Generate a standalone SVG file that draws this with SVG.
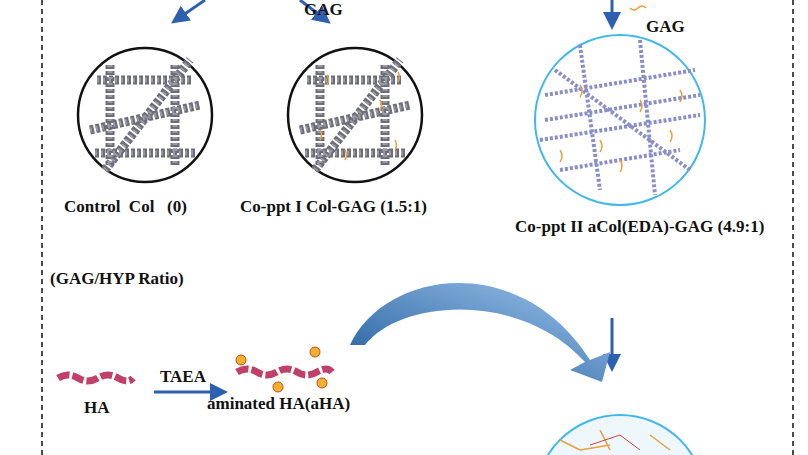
<svg xmlns="http://www.w3.org/2000/svg" width="808" height="455" viewBox="0 0 808 455">
<style>
.t{font-family:"Liberation Serif",serif;font-weight:bold;font-size:17px;fill:#111}
.b{stroke:#111;stroke-width:1.5;stroke-dasharray:5 4;fill:none}
.fib{stroke:#6d6d78;stroke-width:9;fill:none;stroke-dasharray:4 2}
.fib2{stroke:#9a9aa6;stroke-width:5;fill:none}
.lf{stroke:#8a8ec8;stroke-width:4;fill:none;stroke-dasharray:3 2}
.gag{stroke:#e8a040;stroke-width:1.5;fill:none}
.arr{stroke:#2f5fb0;stroke-width:3;fill:none}
</style>
<defs>
<marker id="ah" markerWidth="6" markerHeight="6" refX="4" refY="3" orient="auto"><path d="M0,0L6,3L0,6z" fill="#2f5fb0"/></marker>
<linearGradient id="cg" x1="0" y1="1" x2="1" y2="0"><stop offset="0" stop-color="#1f5a9a"/><stop offset="1" stop-color="#9cc4ec"/></linearGradient>
<g id="mesh">
<path class="fib" d="M-48,-35H48M-50,38H50M-35,-50V52M30,-50V50M-55,15L55,-10M-40,55L45,-55"/>
<path class="fib2" d="M-48,-35H48M-50,38H50M-35,-50V52M30,-50V50M-55,15L55,-10M-40,55L45,-55" stroke-dasharray="2 4"/>
</g>
</defs>
<rect width="808" height="455" fill="#fff"/>
<g id="border">
<path class="b" d="M42,0V455M793,0V455"/>
</g>
<g id="connectors">
<path class="arr" d="M205,0L176,20" marker-end="url(#ah)"/>
<path class="arr" d="M300,0L326,20" marker-end="url(#ah)"/>
<path class="arr" d="M612,0V24" marker-end="url(#ah)"/>
<path class="arr" d="M612,318V366" marker-end="url(#ah)"/>
<path class="arr" d="M154,392H222" stroke-width="1.5" stroke="#222" marker-end="url(#ah)"/>
<path d="M350,345C385,270 520,250 590,360L610,352L602,382L570,370L585,362C520,290 400,300 365,345Z" fill="url(#cg)"/>
</g>
<g id="ctrl">
<circle cx="145" cy="115" r="67" fill="#fff" stroke="#111" stroke-width="2.5"/>
<use href="#mesh" x="145" y="115"/>
</g>
<g id="copptI">
<circle cx="355" cy="115" r="67" fill="#fff" stroke="#111" stroke-width="2.5"/>
<use href="#mesh" x="355" y="115"/>
<path class="gag" d="M327,75q3,5 0,10M398,72q3,5 0,10M320,130q3,5 0,10M380,100q3,5 0,10M345,150q3,5 0,10M395,140q3,5 0,10"/>
</g>
<g id="copptII">
<circle cx="620" cy="120" r="85" fill="#fff" stroke="#40b8ec" stroke-width="2"/>
<path class="lf" d="M545,95L695,70M540,140L700,115M560,170L680,150M580,45L600,190M640,40L655,195M555,70L690,170M545,120L700,95"/>
<path class="gag" d="M580,85q4,6 0,12M640,100q4,6 0,12M600,140q4,6 0,12M670,130q4,6 0,12M620,160q4,6 0,12M560,150q4,6 0,12M680,90q4,6 0,12"/>
</g>
<g id="labels">
<text class="t" x="64" y="212" xml:space="preserve">Control  Col   (0)</text>
<text class="t" x="240" y="212">Co-ppt I Col-GAG (1.5:1)</text>
<text class="t" x="515" y="232">Co-ppt II aCol(EDA)-GAG (4.9:1)</text>
<text class="t" x="50" y="284">(GAG/HYP Ratio)</text>
<text class="t" x="304" y="15">GAG</text>
<text class="t" x="646" y="32">GAG</text>
<path class="gag" d="M630,8q4,4 8,0q4,-4 8,0"/>
<text class="t" x="160" y="382">TAEA</text>
<text class="t" x="84" y="413">HA</text>
<text class="t" x="207" y="409">aminated HA(aHA)</text>
</g>
<g id="ha">
<path d="M58,378q10,-6 20,0t20,0t20,0t15,0" stroke="#c0406a" stroke-width="7" fill="none" stroke-dasharray="12 3"/>
</g>
<g id="aha">
<path d="M237,372q10,-6 20,0t20,0t20,0t20,0t15,0" stroke="#c0406a" stroke-width="7" fill="none" stroke-dasharray="12 3"/>
<g fill="#f3b030" stroke="#c05020"><circle cx="241" cy="360" r="5"/><circle cx="278" cy="387" r="5"/><circle cx="315" cy="352" r="5"/><circle cx="322" cy="383" r="5"/></g>
</g>
<g id="final">
<circle cx="620" cy="500" r="85" fill="#eef8fc" stroke="#40b8ec" stroke-width="2"/>
<path class="gag" d="M560,440l20,10M600,430l10,20M650,435l20,15M580,450l30,-5" stroke-width="3"/>
<path d="M590,445l30,-10l20,15" stroke="#d04040" fill="none"/>
</g>
</svg>
